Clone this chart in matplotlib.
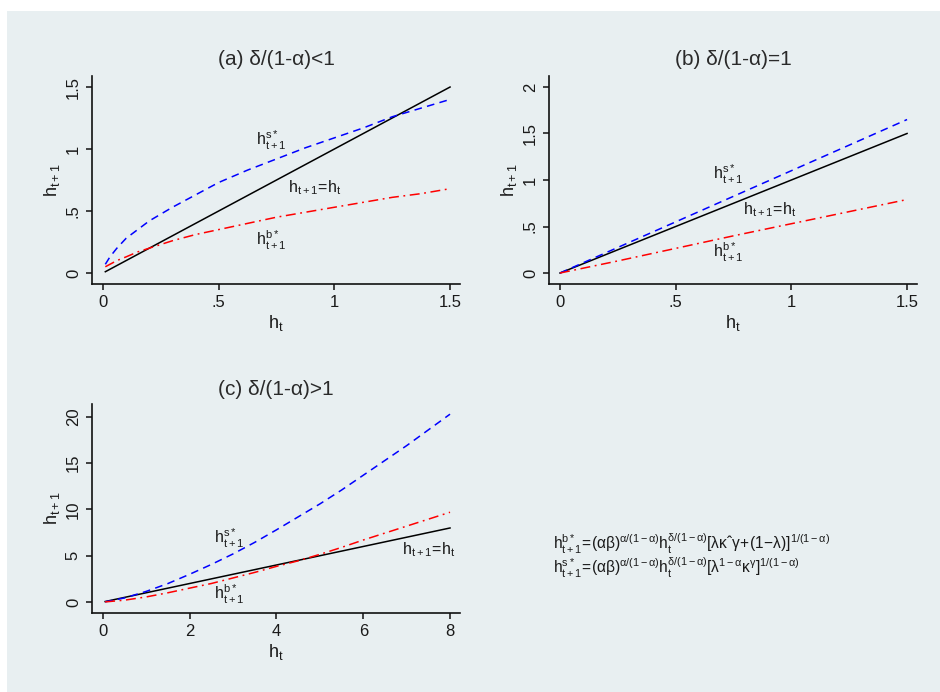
import matplotlib
matplotlib.use("Agg")
import matplotlib.pyplot as plt
from matplotlib.patches import Rectangle

plt.rcParams['font.family'] = ['Liberation Sans', 'DejaVu Sans']
plt.rcParams['mathtext.fontset'] = 'custom'
plt.rcParams['mathtext.rm'] = 'Liberation Sans'
plt.rcParams['mathtext.it'] = 'Liberation Sans'
plt.rcParams['mathtext.bf'] = 'Liberation Sans:bold'

# ---------------- data ----------------
# panel (a)  delta/(1-alpha) < 1
a_x = [0.01, 0.03, 0.06, 0.1, 0.15, 0.2, 0.3, 0.4, 0.5, 0.625, 0.75, 0.875, 1.0, 1.125, 1.25, 1.375, 1.5]
a_s = [0.07, 0.13, 0.20, 0.28, 0.35, 0.42, 0.53, 0.63, 0.73, 0.83, 0.92, 1.01, 1.09, 1.17, 1.26, 1.33, 1.40]
a_b = [0.05, 0.07, 0.10, 0.13, 0.17, 0.20, 0.26, 0.31, 0.35, 0.40, 0.45, 0.49, 0.53, 0.57, 0.61, 0.64, 0.68]
a_line_x = [0.01, 1.5]
a_line_y = [0.01, 1.5]

# panel (b)  delta/(1-alpha) = 1
b_x = [0.0, 0.25, 0.5, 0.75, 1.0, 1.25, 1.5]
b_s = [0.0, 0.275, 0.55, 0.825, 1.10, 1.375, 1.65]
b_b = [0.0, 0.13, 0.265, 0.40, 0.53, 0.66, 0.79]
b_line_x = [0.0, 1.5]
b_line_y = [0.0, 1.5]

# panel (c)  delta/(1-alpha) > 1
c_x = [0.05, 0.5, 1, 1.5, 2, 2.5, 3, 3.5, 4, 4.5, 5, 5.5, 6, 6.5, 7, 7.5, 8]
c_s = [0.02, 0.44, 1.15, 2.0, 3.0, 4.06, 5.2, 6.45, 7.8, 9.2, 10.6, 12.1, 13.7, 15.3, 16.9, 18.6, 20.3]
c_b = [0.01, 0.2, 0.55, 1.0, 1.5, 2.0, 2.6, 3.2, 3.85, 4.45, 5.15, 5.9, 6.7, 7.45, 8.2, 8.95, 9.7]
c_line_x = [0.05, 8.0]
c_line_y = [0.05, 8.0]

a_xticks = [0, 0.5, 1, 1.5]
a_xticklabels = ['0', '.5', '1', '1.5']
a_yticks = [0, 0.5, 1, 1.5]
a_yticklabels = ['0', '.5', '1', '1.5']
b_xticks = [0, 0.5, 1, 1.5]
b_xticklabels = ['0', '.5', '1', '1.5']
b_yticks = [0, 0.5, 1, 1.5, 2]
b_yticklabels = ['0', '.5', '1', '1.5', '2']
c_xticks = [0, 2, 4, 6, 8]
c_xticklabels = ['0', '2', '4', '6', '8']
c_yticks = [0, 5, 10, 15, 20]
c_yticklabels = ['0', '5', '10', '15', '20']

titles = ['(a) δ/(1-α)<1', '(b) δ/(1-α)=1', '(c) δ/(1-α)>1']

# ---------------- figure ----------------
W, H = 940, 692
fig = plt.figure(figsize=(W / 100, H / 100), dpi=100, facecolor='white')
BG = '#e8eff1'
fig.patches.append(Rectangle((7 / W, 0), 1 - 7 / W, 1 - 11 / H, transform=fig.transFigure,
                             facecolor=BG, edgecolor='none', zorder=-10))

def px_axes(l, t, r, b):
    return fig.add_axes([l / W, 1 - b / H, (r - l) / W, (b - t) / H])

axA = px_axes(92, 76, 460, 284)
axB = px_axes(549, 76, 917, 284)
axC = px_axes(92, 404, 460, 613)

BLUE_DASH = (0, (5.0, 3.5))
RED_DASHDOT = (0, (6.5, 3, 1.2, 3))
TXT = '#1a1a1a'

def style(ax, xlim, ylim, xt, xtl, yt, ytl, title, title_pad):
    ax.set_facecolor('none')
    for s in ['top', 'right']:
        ax.spines[s].set_visible(False)
    for s in ['left', 'bottom']:
        ax.spines[s].set_linewidth(1.2)
        ax.spines[s].set_color('#111111')
    ax.set_xlim(*xlim)
    ax.set_ylim(*ylim)
    ax.set_xticks(xt)
    ax.set_xticklabels(xtl)
    ax.set_yticks(yt)
    ax.set_yticklabels(ytl, rotation=90, va='center')
    ax.tick_params(direction='out', length=4, width=1.1, color='#111111',
                   labelsize=12, labelcolor=TXT, pad=4)
    ax.set_xlabel(r'$\mathregular{h_t}$', fontsize=13, color=TXT, labelpad=2)
    ax.set_ylabel(r'$\mathregular{h_{t+1}}$', fontsize=13, color=TXT, labelpad=3)
    ax.set_title(title, fontsize=15, color='#2a2a2a', pad=title_pad)

def lbl(ax, x, y, s):
    ax.text(x, y, s, fontsize=11.5, color=TXT, ha='left', va='baseline')

# (a)
axA.plot(a_line_x, a_line_y, color='black', lw=1.1)
axA.plot(a_x, a_s, color='blue', lw=1.1, linestyle=BLUE_DASH)
axA.plot(a_x, a_b, color='red', lw=1.1, linestyle=RED_DASHDOT)
style(axA, (-0.0476, 1.543), (-0.089, 1.589), a_xticks, a_xticklabels,
      a_yticks, a_yticklabels, titles[0], 8)
lbl(axA, 0.66, 1.03, r'$\mathregular{h^{s*}_{t+1}}$')
lbl(axA, 0.80, 0.65, r'$\mathregular{h_{t+1}\!=\!h_t}$')
lbl(axA, 0.66, 0.22, r'$\mathregular{h^{b*}_{t+1}}$')

# (b)
axB.plot(b_line_x, b_line_y, color='black', lw=1.1)
axB.plot(b_x, b_s, color='blue', lw=1.1, linestyle=BLUE_DASH)
axB.plot(b_x, b_b, color='red', lw=1.1, linestyle=RED_DASHDOT)
style(axB, (-0.0476, 1.543), (-0.118, 2.118), b_xticks, b_xticklabels,
      b_yticks, b_yticklabels, titles[1], 8)
lbl(axB, 0.66, 1.01, r'$\mathregular{h^{s*}_{t+1}}$')
lbl(axB, 0.79, 0.63, r'$\mathregular{h_{t+1}\!=\!h_t}$')
lbl(axB, 0.66, 0.17, r'$\mathregular{h^{b*}_{t+1}}$')

# (c)
axC.plot(c_line_x, c_line_y, color='black', lw=1.1)
axC.plot(c_x, c_s, color='blue', lw=1.1, linestyle=BLUE_DASH)
axC.plot(c_x, c_b, color='red', lw=1.1, linestyle=RED_DASHDOT)
style(axC, (-0.253, 8.23), (-1.19, 21.4), c_xticks, c_xticklabels,
      c_yticks, c_yticklabels, titles[2], 6.5)
lbl(axC, 2.55, 6.3, r'$\mathregular{h^{s*}_{t+1}}$')
lbl(axC, 6.9, 5.2, r'$\mathregular{h_{t+1}\!=\!h_t}$')
lbl(axC, 2.55, 0.25, r'$\mathregular{h^{b*}_{t+1}}$')

# formulas
f1 = r'$\mathregular{h^{b*}_{t+1}\!=\!(\alpha\beta)^{\alpha/(1-\alpha)}h_t^{\delta/(1-\alpha)}[\lambda\kappa' + '\u02c6' + r'\gamma\!+\!(1\!-\!\lambda)]^{1/(1-\alpha)}}$'
f2 = r'$\mathregular{h^{s*}_{t+1}\!=\!(\alpha\beta)^{\alpha/(1-\alpha)}h_t^{\delta/(1-\alpha)}[\lambda^{1-\alpha}\kappa^{\gamma}]^{1/(1-\alpha)}}$'
fig.text(553 / W, 1 - 550 / H, f1, fontsize=11.2, color=TXT, ha='left', va='baseline')
fig.text(553 / W, 1 - 574 / H, f2, fontsize=11.2, color=TXT, ha='left', va='baseline')

fig.savefig('out.png', dpi=100, facecolor='white')
